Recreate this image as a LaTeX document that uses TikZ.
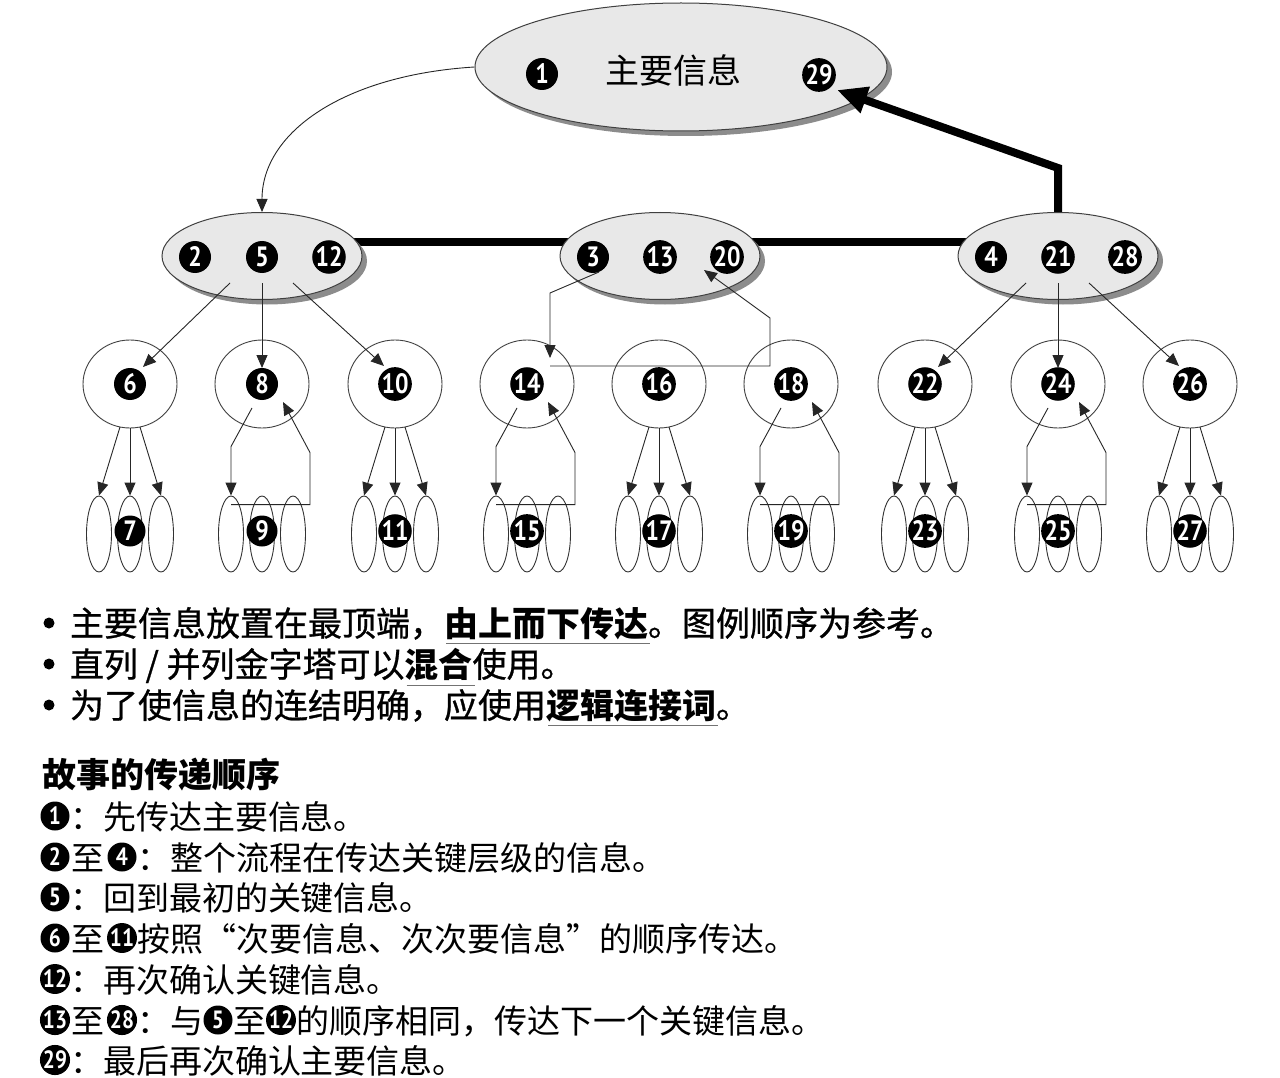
\documentclass[tikz,border=0pt]{standalone}
\usepackage{fontspec}
\usetikzlibrary{shapes.geometric,arrows.meta,calc,shadows,backgrounds}
\newfontfamily\cjk{Noto Sans CJK SC}
\newfontfamily\cjkm{Noto Sans CJK SC}[FakeBold=0.8]
\newfontfamily\numf{PT Sans}[FakeStretch=0.85]

\tikzset{
  link/.style={draw=black!85, line width=0.9pt},
  arr/.style={-{Triangle[length=13pt,width=11pt]}},
  heavy/.style={draw=black, line width=8pt},
  keyell/.style={ellipse, draw=black!75, line width=1pt, fill=black!9, inner sep=0pt,
    drop shadow={shadow xshift=5pt, shadow yshift=-5pt, fill=black!45, opacity=1}},
  subell/.style={ellipse, draw=black!75, line width=0.9pt, fill=white, inner sep=0pt,
    minimum width=94pt, minimum height=88pt},
  leaf/.style={ellipse, draw=black!80, line width=0.9pt, inner sep=0pt,
    minimum width=25pt, minimum height=76pt},
  mk/.style={circle, fill=black, text=white, inner sep=0pt, minimum size=32pt,
    font=\numf\bfseries\fontsize{28}{28}\selectfont},
  mks/.style={mk, minimum size=29pt, font=\numf\bfseries\fontsize{25}{25}\selectfont},
  txt/.style={inner sep=0pt, outer sep=0pt, anchor=base west, font=\cjkm\fontsize{34}{34}\selectfont},
  txtb/.style={txt, font=\cjk\bfseries\fontsize{34}{34}\selectfont},
  lst/.style={txt, font=\cjk\fontsize{33}{33}\selectfont},
  ul/.style={draw=black!55, line width=1pt},
  dot/.style={circle, fill=black, inner sep=0pt, minimum size=11pt},
}

\begin{document}
\begin{tikzpicture}[x=1pt,y=-1pt]
\useasboundingbox (0,0) rectangle (1280,1078);
\begin{scope}[on background layer]
  \fill[white] (0,0) rectangle (1280,1078);
\end{scope}

% main message
\node[keyell, minimum width=412pt, minimum height=128pt] (top) at (681,67) {};
\node[mk] (m1) at (542,74) {1};
\node[inner sep=0pt, font=\cjk\fontsize{34}{34}\selectfont] (title) at (673,70) {主要信息};
\node[mk, minimum size=30pt] (m29) at (819,75) {29};

% key messages
\foreach \nm/\cx/\a/\b/\c in {L/262/2/5/12, M/660/3/13/20, R/1058/4/21/28}{
  \node[keyell, minimum width=200pt, minimum height=87pt] (\nm) at (\cx,256) {};
  \node[mk] (m\a) at ($(\nm)+(-67,1)$) {\a};
  \node[mk] (m\b) at ($(\nm)+(0,1)$) {\b};
  \node[mk] (m\c) at ($(\nm)+(67,1)$) {\c};
}

% secondary messages and their details
\foreach \cx/\cn/\ln in {130/6/7,262/8/9,395/10/11,527/14/15,659/16/17,791/18/19,925/22/23,1058/24/25,1190/26/27}{
  \node[subell] (c\cn) at (\cx,384) {};
  \node[mk] (m\cn) at (\cx,384) {\cn};
  \node[leaf] (lf\cn-a) at (\cx-31,534) {};
  \node[leaf] (lf\cn-b) at (\cx,534) {};
  \node[leaf] (lf\cn-c) at (\cx+31,534) {};
  \node[mk, minimum size=31pt] (m\ln) at (\cx,531) {\ln};
}

% thick bar joining the key messages
\begin{scope}[on background layer]
  \draw[heavy] ($(L)+(0,-14)$) -- ($(R)+(0,-14)$);
\end{scope}

% main message down to the first key message
\draw[link,arr] (top.west) .. controls +(-130,8) and +(0,-80) .. (L.north);

% key messages down to secondary messages
\foreach \nm/\l/\m/\r in {L/6/8/10, R/22/24/26}{
  \draw[link,arr] ($(\nm)+(-32,27)$) -- ($(c\l)+(13,-17)$);
  \draw[link,arr] ($(\nm)+(0,27)$) -- ($(c\m)+(0,-16)$);
  \draw[link,arr] ($(\nm)+(31,27)$) -- ($(c\r)+(-11,-18)$);
}

% fan-out to the details
\foreach \cn in {6,10,16,22,26}{
  \draw[link,arr] ($(c\cn)+(-10,43)$) -- (lf\cn-a.north);
  \draw[link,arr] ($(c\cn)+(0,44)$) -- (lf\cn-b.north);
  \draw[link,arr] ($(c\cn)+(10,43)$) -- (lf\cn-c.north);
}

% down-and-back loops
\foreach \cn in {8,14,18,24}{
  \draw[link,arr] ($(c\cn)+(-10,24)$) -- ($(lf\cn-a.north)+(0,-49)$) -- (lf\cn-a.north);
  \draw[link,arr] ($(lf\cn-a.north)+(0,9)$) -- ($(lf\cn-c.north)+(17,9)$)
     -- ($(lf\cn-c.north)+(17,-43)$) -- ($(c\cn)+(21,18)$);
}
\draw[link,arr] ($(m3)+(6,15)$) -- ($(c14)+(23,-91)$) -- ($(c14)+(23,-26)$);
\draw[link,arr] ($(c14)+(23,-18)$) -- ($(c18)+(-21,-18)$) -- ($(c18)+(-21,-66)$) -- ($(m20)+(-23,13)$);

% back up to the main message
\draw[heavy, line join=miter, -{Triangle[length=30pt,width=26pt]}]
  (R.north) -- ($(R.north)+(0,-44)$) -- ($(m29)+(18,15)$);

% notes
\node[dot] (b1) at (49,623) {};
\node[txt] (t1a) at (70,636) {主要信息放置在最顶端，};
\node[txtb] (t1b) at (t1a.base east) {由上而下传达};
\node[txt] (t1c) at (t1b.base east) {。图例顺序为参考。};
\draw[ul] ($(t1b.base west)+(2,7)$) -- ($(t1b.base east)+(2,7)$);

\node[dot] (b2) at (49,664) {};
\node[txt] (t2a) at (70,677) {直列 / 并列金字塔可以};
\node[txtb] (t2b) at (t2a.base east) {混合};
\node[txt] (t2c) at (t2b.base east) {使用。};
\draw[ul] ($(t2b.base west)+(2,8)$) -- ($(t2b.base east)+(2,8)$);

\node[dot] (b3) at (49,705) {};
\node[txt] (t3a) at (70,718) {为了使信息的连结明确，应使用};
\node[txtb] (t3b) at (t3a.base east) {逻辑连接词};
\node[txt] (t3c) at (t3b.base east) {。};
\draw[ul] ($(t3b.base west)+(2,7)$) -- ($(t3b.base east)+(2,7)$);

% storytelling order
\node[txtb] (hd) at (42,787) {故事的传递顺序};

\node[mks] (n1) at (55,816) {1};
\node[lst] (s1) at (70,829) {：先传达主要信息。};

\node[mks] (n2) at (55,857) {2};
\node[lst] (s2a) at (71,870) {至};
\node[mks] (n4) at (122,857) {4};
\node[lst] (s2b) at (137,870) {：整个流程在传达关键层级的信息。};

\node[mks] (n5) at (55,897) {5};
\node[lst] (s3) at (70,910) {：回到最初的关键信息。};

\node[mks] (n6) at (55,938) {6};
\node[lst] (s4a) at (71,951) {至};
\node[mks] (n11) at (122,938) {11};
\node[lst] (s4b) at (137,951) {按照“次要信息、次次要信息”的顺序传达。};

\node[mks] (n12) at (55,979) {12};
\node[lst] (s5) at (70,992) {：再次确认关键信息。};

\node[mks] (n13) at (55,1020) {13};
\node[lst] (s6a) at (71,1033) {至};
\node[mks] (n28) at (122,1020) {28};
\node[lst] (s6b) at (137,1033) {：与};
\node[mks] (n5b) at (218,1020) {5};
\node[lst] (s6c) at (233,1033) {至};
\node[mks] (n12b) at (281,1020) {12};
\node[lst] (s6d) at (296,1033) {的顺序相同，传达下一个关键信息。};

\node[mks] (n29) at (55,1060) {29};
\node[lst] (s7) at (70,1073) {：最后再次确认主要信息。};
\end{tikzpicture}
\end{document}
